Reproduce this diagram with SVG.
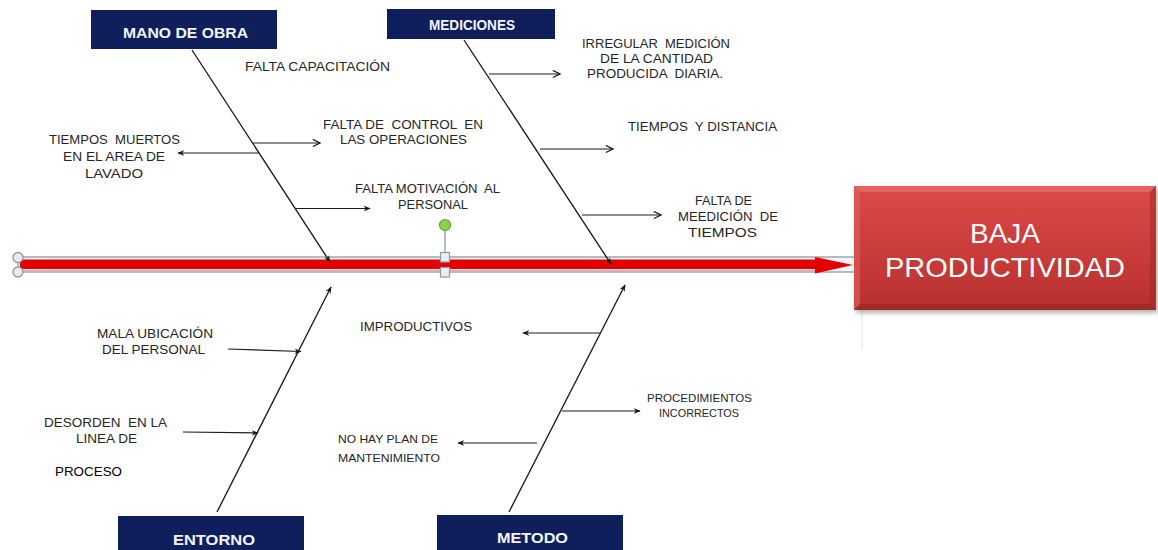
<svg xmlns="http://www.w3.org/2000/svg" width="1158" height="550" viewBox="0 0 1158 550">
  <defs>
    <style>
      .lbl { font-family: "Liberation Sans", Arial, sans-serif; font-size: 13.5px; fill: #262626; }
      .sm { font-size: 11.5px; }
      .hdr { font-family: "Liberation Sans", Arial, sans-serif; font-size: 15px; font-weight: bold; fill: #f2f4fa; }
      .cat { fill: #0f1f5c; }
      .bone { stroke: #161616; stroke-width: 1.3; fill: none; }
      .sub { stroke: #1c1c1c; stroke-width: 1.2; fill: none; }
      .open { marker-end: url(#chev); }
      .solid { marker-end: url(#tri); }
    </style>
    <marker id="tri" viewBox="0 0 10 10" refX="9" refY="5" markerWidth="7" markerHeight="7" markerUnits="userSpaceOnUse" orient="auto">
      <path d="M0,1 L10,5 L0,9 L3,5 Z" fill="#161616"/>
    </marker>
    <marker id="chev" viewBox="0 0 10 10" refX="9" refY="5" markerWidth="9" markerHeight="9" markerUnits="userSpaceOnUse" orient="auto">
      <path d="M1,1 L9,5 L1,9" fill="none" stroke="#161616" stroke-width="1.3"/>
    </marker>
    <linearGradient id="effectFill" x1="0" y1="0" x2="0" y2="1">
      <stop offset="0" stop-color="#dc4a46"/>
      <stop offset="1" stop-color="#b8302e"/>
    </linearGradient>
    <filter id="shadow" x="-5%" y="-5%" width="115%" height="120%">
      <feDropShadow dx="2" dy="3" stdDeviation="2" flood-color="#000" flood-opacity="0.3"/>
    </filter>
  </defs>

  <rect width="1158" height="550" fill="#ffffff"/>

  <!-- faint guide under the effect box -->
  <line x1="862" y1="310" x2="862" y2="350" stroke="#e2e2e2" stroke-width="1"/>

  <!-- main spine -->
  <g id="spine">
    <rect x="18" y="257" width="837" height="15" fill="#f3f5f7" stroke="#8d9ba8" stroke-width="1.3"/>
    <rect x="20" y="259.5" width="797" height="9.5" fill="#e40000"/>
    <line x1="20" y1="270.3" x2="817" y2="270.3" stroke="#f2a4a4" stroke-width="1.2"/>
    <polygon points="815,257 853,265 815,273.5" fill="#e40000"/>
    <circle cx="18" cy="257.5" r="5" fill="#e6ebef" stroke="#8d9ba8" stroke-width="1.3"/>
    <circle cx="18" cy="272" r="5" fill="#e6ebef" stroke="#8d9ba8" stroke-width="1.3"/>
    <!-- selection handles -->
    <line x1="445" y1="230" x2="445" y2="253" stroke="#8d9ba8" stroke-width="1.3"/>
    <circle cx="445" cy="225" r="5.5" fill="#8fd14f" stroke="#5e9e35" stroke-width="1.2"/>
    <rect x="440.5" y="252.5" width="9" height="9.5" fill="#e8eef3" stroke="#8d9ba8" stroke-width="1.2"/>
    <rect x="440.5" y="267.5" width="9" height="9.5" fill="#e8eef3" stroke="#8d9ba8" stroke-width="1.2"/>
  </g>

  <!-- effect -->
  <g id="effect">
    <rect x="854" y="186" width="302" height="124" fill="url(#effectFill)" filter="url(#shadow)"/>
    <polygon points="854,186 1156,186 1150,192 860,192" fill="#e8706b" opacity="0.7"/>
    <polygon points="854,186 860,192 860,304 854,310" fill="#e0605c" opacity="0.6"/>
    <polygon points="854,310 860,304 1150,304 1156,310" fill="#8f2422" opacity="0.6"/>
    <polygon points="1156,186 1150,192 1150,304 1156,310" fill="#9e2826" opacity="0.5"/>
    <text x="1005" y="243" text-anchor="middle" font-family="'Liberation Sans', Arial, sans-serif" font-size="28" fill="#ffffff">BAJA</text>
    <text x="1005" y="277" text-anchor="middle" font-family="'Liberation Sans', Arial, sans-serif" font-size="28" fill="#ffffff" textLength="240" lengthAdjust="spacingAndGlyphs">PRODUCTIVIDAD</text>
  </g>

  <!-- category headers -->
  <g id="mano-de-obra">
    <rect class="cat" x="91" y="10" width="186" height="39"/>
    <text class="hdr" x="123" y="38" textLength="125" lengthAdjust="spacingAndGlyphs">MANO DE OBRA</text>
  </g>
  <g id="mediciones">
    <rect class="cat" x="387" y="9" width="168" height="30"/>
    <text class="hdr" x="429" y="30" font-size="13.5" textLength="86" lengthAdjust="spacingAndGlyphs">MEDICIONES</text>
  </g>
  <g id="entorno">
    <rect class="cat" x="118" y="516" width="186" height="40"/>
    <text class="hdr" x="173" y="545" textLength="82" lengthAdjust="spacingAndGlyphs">ENTORNO</text>
  </g>
  <g id="metodo">
    <rect class="cat" x="437" y="515" width="186" height="40"/>
    <text class="hdr" x="497" y="543" textLength="71" lengthAdjust="spacingAndGlyphs">METODO</text>
  </g>

  <!-- connectors -->
  <g id="connectors">
    <line class="bone solid" x1="192" y1="50" x2="330" y2="262"/>
    <line class="bone solid" x1="464" y1="40" x2="611" y2="264"/>
    <line class="bone solid" x1="217" y1="512" x2="331" y2="287"/>
    <line class="bone solid" x1="509" y1="512" x2="625" y2="285"/>

    <line class="sub solid" x1="259" y1="153" x2="178" y2="153"/>
    <line class="sub open" x1="252" y1="143" x2="320" y2="143"/>
    <line class="sub solid" x1="296" y1="208.5" x2="370" y2="208.5"/>

    <line class="sub open" x1="489" y1="74" x2="560" y2="74"/>
    <line class="sub open" x1="540" y1="149" x2="613" y2="149"/>
    <line class="sub open" x1="582" y1="215" x2="661" y2="215"/>

    <line class="sub solid" x1="228" y1="349" x2="301" y2="351.5"/>
    <line class="sub solid" x1="183" y1="432" x2="258" y2="433"/>

    <line class="sub solid" x1="600" y1="333" x2="523" y2="333"/>
    <line class="sub solid" x1="562" y1="411" x2="640" y2="411"/>
    <line class="sub solid" x1="537" y1="443" x2="458" y2="443"/>
  </g>

  <!-- cause labels -->
  <g id="causes-mano-de-obra">
    <text class="lbl" x="245" y="71" textLength="145" lengthAdjust="spacingAndGlyphs">FALTA CAPACITACIÓN</text>
    <text class="lbl" x="49" y="144" textLength="131" lengthAdjust="spacingAndGlyphs" xml:space="preserve">TIEMPOS  MUERTOS</text>
    <text class="lbl" x="63" y="161" textLength="102" lengthAdjust="spacingAndGlyphs">EN EL AREA DE</text>
    <text class="lbl" x="85" y="178" textLength="58" lengthAdjust="spacingAndGlyphs">LAVADO</text>
    <text class="lbl" x="323" y="129" textLength="160" lengthAdjust="spacingAndGlyphs" xml:space="preserve">FALTA DE  CONTROL  EN</text>
    <text class="lbl" x="340" y="144" textLength="127" lengthAdjust="spacingAndGlyphs">LAS OPERACIONES</text>
    <text class="lbl" x="355" y="193" textLength="145" lengthAdjust="spacingAndGlyphs" xml:space="preserve">FALTA MOTIVACIÓN  AL</text>
    <text class="lbl" x="398" y="209" textLength="70" lengthAdjust="spacingAndGlyphs">PERSONAL</text>
  </g>
  <g id="causes-mediciones">
    <text class="lbl" x="582" y="48" textLength="148" lengthAdjust="spacingAndGlyphs" xml:space="preserve">IRREGULAR  MEDICIÓN</text>
    <text class="lbl" x="600" y="63" textLength="113" lengthAdjust="spacingAndGlyphs">DE LA CANTIDAD</text>
    <text class="lbl" x="587" y="78" textLength="136" lengthAdjust="spacingAndGlyphs" xml:space="preserve">PRODUCIDA  DIARIA.</text>
    <text class="lbl" x="628" y="131" textLength="149" lengthAdjust="spacingAndGlyphs" xml:space="preserve">TIEMPOS  Y DISTANCIA</text>
    <text class="lbl" x="695" y="205" textLength="57" lengthAdjust="spacingAndGlyphs">FALTA DE</text>
    <text class="lbl" x="678" y="221" textLength="100" lengthAdjust="spacingAndGlyphs" xml:space="preserve">MEEDICIÓN  DE</text>
    <text class="lbl" x="688" y="237" textLength="69" lengthAdjust="spacingAndGlyphs">TIEMPOS</text>
  </g>
  <g id="causes-entorno">
    <text class="lbl" x="97" y="338" textLength="116" lengthAdjust="spacingAndGlyphs">MALA UBICACIÓN</text>
    <text class="lbl" x="102" y="354" textLength="103" lengthAdjust="spacingAndGlyphs">DEL PERSONAL</text>
    <text class="lbl" x="44" y="427" textLength="123" lengthAdjust="spacingAndGlyphs" xml:space="preserve">DESORDEN  EN LA</text>
    <text class="lbl" x="76" y="443" textLength="61" lengthAdjust="spacingAndGlyphs">LINEA DE</text>
    <text x="55" y="476" font-family="'Liberation Sans', Arial, sans-serif" font-size="13" fill="#000000" textLength="67" lengthAdjust="spacingAndGlyphs">PROCESO</text>
  </g>
  <g id="causes-metodo">
    <text class="lbl" x="360" y="331" textLength="112" lengthAdjust="spacingAndGlyphs">IMPRODUCTIVOS</text>
    <text class="lbl sm" x="647" y="402" textLength="105" lengthAdjust="spacingAndGlyphs">PROCEDIMIENTOS</text>
    <text class="lbl sm" x="659" y="417" textLength="80" lengthAdjust="spacingAndGlyphs">INCORRECTOS</text>
    <text class="lbl sm" x="338" y="443" textLength="100" lengthAdjust="spacingAndGlyphs">NO HAY PLAN DE</text>
    <text class="lbl sm" x="338" y="462" textLength="102" lengthAdjust="spacingAndGlyphs">MANTENIMIENTO</text>
  </g>
</svg>
